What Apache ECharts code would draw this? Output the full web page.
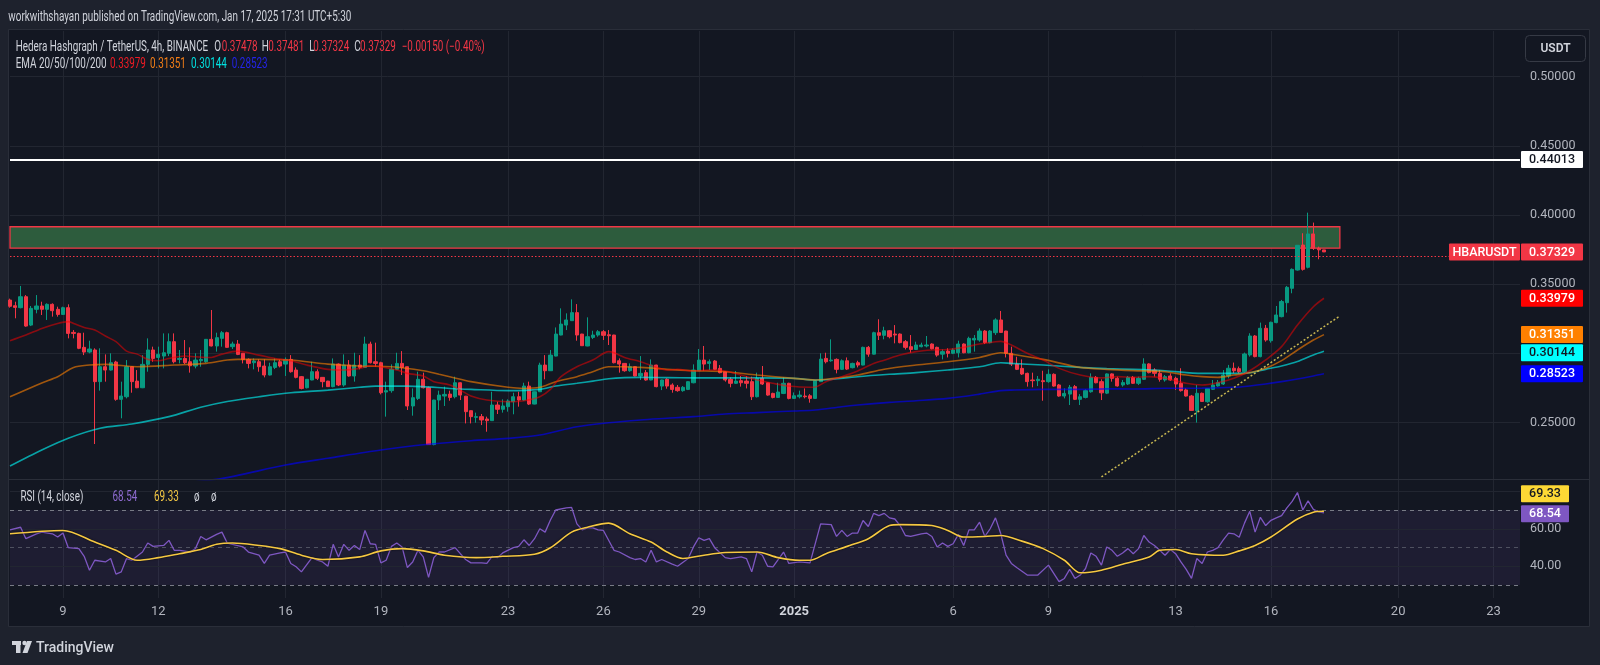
<!DOCTYPE html>
<html><head><meta charset="utf-8">
<script src="https://cdn.jsdelivr.net/npm/echarts@6/dist/echarts.min.js"></script>
<style>html,body{margin:0;padding:0;background:#1e222d;}#c{width:1600px;height:665px;}</style>
</head><body><div id="c"></div>
<script>
// ---------- DATA ----------
const tickIdx = [10,28,52,70,94,112,130,148,178,196,220,238,262,280];
const tickLabels = ['9','12','16','19','23','26','29','2025','6','9','13','16','20','23'];
const priceTicks = [0.25,0.30,0.35,0.40,0.45,0.50];
const rsiTicks = [40,60];
const rsiGrid = [40,60,80];
const rsiLevels = [70,50,30];
const keyLevel = 0.44013;
const zoneLow = 0.3760, zoneHigh = 0.3915, zoneEnd = 251;
const lastPrice = 0.37329;
const trendLine = [[206,0.2106],[251,0.3270]];
// [open, high, low, close] per 4h candle, from Dec 7 08:00
const candles = [
[.3385,.3395,.3330,.3340],[.3344,.3373,.3253,.3332],[.3330,.3487,.3325,.3409],[.3409,.3421,.3192,.3197],[.3204,.3342,.3197,.3325],
[.3318,.3421,.3289,.3342],[.3342,.3373,.3277,.3318],[.3318,.3361,.3241,.3354],[.3354,.3361,.3265,.3308],[.3318,.3337,.3265,.3281],
[.3281,.3337,.3277,.3330],[.3330,.3354,.3108,.3144],[.3151,.3168,.3108,.3144],[.3144,.3149,.3030,.3036],[.3043,.3149,.2987,.3009],
[.3009,.3091,.3000,.3031],[.3024,.3036,.2344,.2795],[.2795,.3036,.2730,.2903],[.2903,.2992,.2795,.2879],[.2879,.3000,.2875,.2932],
[.2937,.2946,.2657,.2667],[.2667,.2795,.2530,.2691],[.2686,.2951,.2674,.2903],[.2903,.2905,.2715,.2795],[.2799,.2879,.2748,.2751],
[.2751,.2987,.2748,.2920],[.2920,.3108,.2867,.3024],[.3024,.3048,.2939,.2963],[.2970,.3048,.2891,.2992],[.2980,.3144,.2891,.3004],
[.3000,.3144,.2980,.3084],[.3084,.3144,.2927,.2939],[.2956,.3024,.2927,.2963],[.2963,.3096,.2922,.2932],[.2939,.3043,.2860,.2910],
[.2908,.3000,.2891,.2951],[.2946,.3024,.2903,.2956],[.2939,.3103,.2932,.3101],[.3101,.3313,.3050,.3053],[.3053,.3149,.3012,.3113],
[.3108,.3161,.3048,.3149],[.3149,.3156,.3040,.3043],[.3048,.3084,.3031,.3067],[.3067,.3096,.2987,.2992],[.3000,.3002,.2927,.2956],
[.2956,.2963,.2891,.2927],[.2932,.2963,.2884,.2944],[.2939,.2956,.2867,.2903],[.2908,.2956,.2826,.2843],[.2843,.2932,.2840,.2903],
[.2898,.2963,.2886,.2932],[.2939,.2956,.2898,.2908],[.2922,.2970,.2836,.2956],[.2956,.2987,.2860,.2867],[.2879,.2898,.2819,.2826],
[.2831,.2836,.2739,.2746],[.2751,.2814,.2746,.2812],[.2807,.2939,.2805,.2867],[.2867,.2884,.2807,.2819],[.2826,.2828,.2754,.2795],
[.2799,.2801,.2757,.2759],[.2759,.2963,.2754,.2922],[.2922,.2927,.2763,.2771],[.2771,.2992,.2759,.2915],[.2915,.2951,.2831,.2836],
[.2836,.3004,.2795,.2915],[.2915,.2987,.2884,.2898],[.2898,.3120,.2896,.3067],[.3067,.3084,.2927,.2932],[.2939,.3077,.2903,.2927],
[.2932,.2939,.2703,.2715],[.2720,.2795,.2542,.2730],[.2730,.2920,.2715,.2884],[.2884,.3004,.2879,.2927],[.2927,.3016,.2843,.2898],
[.2903,.2905,.2590,.2619],[.2619,.2746,.2549,.2679],[.2674,.2867,.2662,.2812],[.2812,.2860,.2746,.2751],[.2751,.2759,.2337,.2340],
[.2340,.2664,.2335,.2662],[.2662,.2730,.2590,.2698],[.2691,.2759,.2619,.2703],[.2705,.2730,.2657,.2681],[.2686,.2831,.2674,.2787],
[.2787,.2790,.2662,.2698],[.2690,.2692,.2493,.2578],[.2585,.2587,.2493,.2542],[.2537,.2571,.2498,.2542],[.2542,.2561,.2481,.2518],
[.2525,.2542,.2433,.2513],[.2513,.2722,.2511,.2626],[.2626,.2650,.2561,.2595],[.2595,.2667,.2571,.2619],[.2614,.2667,.2578,.2655],
[.2650,.2715,.2559,.2686],[.2686,.2722,.2614,.2662],[.2662,.2787,.2657,.2763],[.2763,.2795,.2626,.2633],[.2633,.2724,.2631,.2722],
[.2722,.2932,.2720,.2915],[.2915,.2987,.2812,.2874],[.2874,.3024,.2872,.2987],[.2980,.3187,.2978,.3139],[.3132,.3325,.3130,.3211],
[.3204,.3289,.3168,.3241],[.3236,.3390,.3234,.3294],[.3294,.3356,.3091,.3132],[.3139,.3141,.3053,.3055],[.3053,.3260,.3051,.3120],
[.3115,.3163,.3103,.3132],[.3132,.3168,.3120,.3156],[.3156,.3168,.3096,.3130],[.3134,.3168,.3060,.3127],[.3132,.3134,.2927,.2932],
[.2946,.2963,.2860,.2922],[.2927,.2929,.2867,.2874],[.2874,.2927,.2867,.2903],[.2903,.2905,.2834,.2836],[.2836,.2980,.2807,.2855],
[.2860,.2879,.2802,.2807],[.2807,.2956,.2805,.2915],[.2915,.2917,.2754,.2759],[.2763,.2809,.2734,.2807],[.2812,.2819,.2744,.2763],
[.2771,.2783,.2715,.2739],[.2754,.2771,.2722,.2730],[.2730,.2763,.2722,.2754],[.2739,.2797,.2734,.2795],[.2787,.2920,.2783,.2879],
[.2874,.3031,.2872,.2951],[.2951,.3053,.2874,.2922],[.2927,.2956,.2879,.2939],[.2944,.2951,.2879,.2884],[.2891,.2915,.2855,.2860],
[.2867,.2869,.2795,.2807],[.2812,.2826,.2754,.2783],[.2783,.2872,.2778,.2799],[.2802,.2836,.2759,.2787],[.2799,.2836,.2746,.2783],
[.2795,.2831,.2662,.2686],[.2686,.2860,.2681,.2819],[.2819,.2908,.2771,.2778],[.2787,.2789,.2693,.2698],[.2710,.2715,.2674,.2681],
[.2681,.2787,.2679,.2720],[.2710,.2826,.2705,.2783],[.2783,.2787,.2667,.2674],[.2674,.2717,.2672,.2693],[.2686,.2730,.2674,.2698],
[.2691,.2746,.2674,.2686],[.2693,.2705,.2643,.2674],[.2674,.2807,.2672,.2802],[.2795,.3000,.2793,.2958],[.2963,.3004,.2927,.2939],
[.2946,.3101,.2939,.2951],[.2956,.2963,.2855,.2884],[.2884,.2956,.2879,.2946],[.2946,.2970,.2879,.2886],[.2896,.2932,.2891,.2927],
[.2932,.2946,.2898,.2915],[.2915,.3048,.2913,.3043],[.3043,.3053,.2975,.2994],[.2994,.3156,.2992,.3149],[.3149,.3246,.3096,.3130],
[.3130,.3192,.3101,.3163],[.3163,.3168,.3108,.3120],[.3139,.3204,.3072,.3132],[.3139,.3144,.3072,.3077],[.3084,.3096,.3028,.3043],
[.3048,.3132,.3004,.3028],[.3028,.3084,.3024,.3060],[.3048,.3077,.3043,.3060],[.3053,.3125,.3043,.3060],[.3067,.3072,.3028,.3033],
[.3043,.3048,.2975,.2987],[.2994,.3028,.2956,.3012],[.3016,.3036,.2970,.3000],[.3000,.3036,.2994,.3024],[.3004,.3091,.2970,.3067],
[.3067,.3072,.3000,.3004],[.3004,.3120,.3000,.3108],[.3096,.3132,.3012,.3108],[.3096,.3180,.3084,.3161],[.3161,.3168,.3067,.3077],
[.3077,.3168,.3072,.3161],[.3149,.3253,.3132,.3241],[.3241,.3306,.3149,.3151],[.3161,.3163,.2970,.3000],[.3000,.3048,.2908,.2922],
[.2922,.2975,.2879,.2884],[.2891,.2956,.2843,.2850],[.2855,.2860,.2759,.2795],[.2807,.2860,.2754,.2802],[.2802,.2836,.2763,.2812],
[.2802,.2874,.2657,.2795],[.2795,.2884,.2787,.2848],[.2848,.2855,.2759,.2763],[.2771,.2778,.2686,.2691],[.2691,.2746,.2674,.2710],
[.2705,.2771,.2626,.2754],[.2759,.2771,.2662,.2667],[.2667,.2705,.2626,.2686],[.2681,.2739,.2674,.2730],[.2722,.2855,.2715,.2826],
[.2826,.2836,.2783,.2787],[.2795,.2812,.2662,.2714],[.2712,.2855,.2705,.2851],[.2851,.2855,.2795,.2819],[.2819,.2831,.2759,.2764],
[.2771,.2807,.2759,.2788],[.2778,.2836,.2771,.2826],[.2826,.2836,.2778,.2783],[.2783,.2831,.2771,.2819],[.2812,.2964,.2807,.2923],
[.2923,.2928,.2855,.2860],[.2879,.2892,.2831,.2855],[.2855,.2879,.2795,.2812],[.2807,.2843,.2795,.2831],[.2836,.2855,.2802,.2807],
[.2819,.2831,.2735,.2778],[.2783,.2892,.2723,.2730],[.2735,.2747,.2687,.2691],[.2691,.2699,.2585,.2587],[.2585,.2771,.2499,.2711],
[.2711,.2716,.2650,.2652],[.2650,.2747,.2643,.2745],[.2740,.2807,.2735,.2771],[.2764,.2807,.2759,.2788],[.2778,.2879,.2771,.2843],
[.2836,.2916,.2819,.2892],[.2892,.2933,.2855,.2874],[.2889,.2904,.2855,.2867],[.2867,.3005,.2860,.2995],[.2988,.3145,.2976,.3125],
[.3125,.3132,.2971,.2976],[.2976,.3222,.2971,.3181],[.3181,.3205,.3084,.3096],[.3091,.3229,.3077,.3224],[.3222,.3342,.3217,.3277],
[.3265,.3386,.3260,.3374],[.3366,.3487,.3294,.3477],[.3470,.3614,.3434,.3607],[.3602,.3783,.3598,.3781],[.3783,.3868,.3598,.3607],
[.3622,.4017,.3614,.3863],[.3863,.3945,.3747,.3759],[.3759,.3771,.3680,.3748],[.37478,.37481,.37324,.37329]
];
const ema20 = [[0,.3091],[3,.3132],[6,.3180],[9,.3216],[11,.3229],[12,.3216],[14,.3187],[16,.3168],[18,.3125],[20,.3084],[22,.3016],[24,.2994],[26,.2956],[28,.2946],[30,.2963],[33,.2980],[35,.2975],[38,.2970],[40,.2994],[43,.3016],[47,.2987],[50,.2963],[53,.2946],[56,.2915],[60,.2884],[63,.2879],[66,.2891],[68,.2910],[70,.2903],[73,.2879],[75,.2855],[78,.2836],[80,.2795],[83,.2771],[85,.2734],[87,.2691],[90,.2662],[94,.2650],[97,.2657],[100,.2686],[102,.2739],[104,.2831],[107,.2903],[110,.2951],[113,.3012],[114,.3004],[116,.2970],[119,.2939],[122,.2898],[124,.2879],[126,.2884],[129,.2872],[132,.2879],[135,.2872],[138,.2843],[141,.2807],[144,.2783],[147,.2763],[151,.2754],[152,.2756],[154,.2795],[157,.2831],[160,.2872],[163,.2927],[165,.2950],[168,.2987],[171,.3012],[174,.3024],[177,.3028],[180,.3043],[183,.3067],[186,.3084],[187,.3086],[189,.3060],[192,.3000],[195,.2951],[198,.2891],[202,.2843],[206,.2822],[209,.2831],[212,.2826],[215,.2831],[218,.2819],[222,.2783],[225,.2771],[228,.2788],[231,.2819],[234,.2874],[237,.2952],[240,.3048],[243,.3205],[246,.3337],[248,.33979]];
const ema50 = [[0,.2686],[6,.2786],[9,.2831],[12,.2898],[15,.2915],[18,.2920],[24,.2903],[31,.2915],[37,.2927],[41,.2951],[43,.2956],[47,.2956],[53,.2951],[60,.2922],[66,.2908],[72,.2903],[78,.2874],[81,.2848],[83,.2831],[87,.2795],[94,.2754],[97,.2746],[100,.2754],[103,.2795],[107,.2831],[110,.2867],[113,.2903],[116,.2903],[119,.2898],[122,.2891],[124,.2884],[129,.2874],[135,.2867],[141,.2843],[148,.2819],[152,.2807],[154,.2812],[160,.2843],[165,.2885],[171,.2915],[177,.2939],[183,.2970],[187,.3004],[189,.2994],[195,.2956],[202,.2898],[207,.2884],[212,.2875],[218,.2867],[222,.2843],[225,.2831],[228,.2826],[231,.2843],[234,.2860],[237,.2892],[240,.2947],[243,.3024],[246,.3096],[248,.31351]];
const ema100 = [[0,.2185],[6,.2301],[11,.2386],[17,.2458],[23,.2489],[30,.2542],[36,.2610],[41,.2652],[47,.2686],[53,.2715],[60,.2734],[66,.2754],[69,.2763],[75,.2763],[78,.2759],[83,.2746],[87,.2739],[94,.2730],[100,.2739],[103,.2763],[107,.2783],[110,.2799],[113,.2816],[116,.2824],[119,.2826],[124,.2824],[129,.2822],[135,.2822],[141,.2822],[148,.2819],[152,.2807],[154,.2809],[160,.2831],[166,.2848],[171,.2860],[177,.2879],[183,.2903],[187,.2932],[189,.2927],[195,.2915],[202,.2898],[207,.2889],[212,.2884],[218,.2874],[225,.2855],[231,.2855],[234,.2860],[237,.2884],[240,.2908],[243,.2940],[246,.2988],[248,.30144]];
const ema200 = [[0,.1950],[20,.2020],[39,.2089],[52,.2192],[60,.2241],[70,.2301],[79,.2342],[87,.2368],[94,.2385],[100,.2409],[107,.2469],[113,.2498],[119,.2518],[124,.2530],[129,.2542],[135,.2561],[141,.2571],[148,.2583],[152,.2590],[157,.2614],[160,.2626],[166,.2645],[171,.2657],[177,.2674],[183,.2705],[187,.2730],[189,.2734],[195,.2739],[202,.2739],[207,.2743],[212,.2742],[218,.2747],[225,.2748],[231,.2754],[234,.2764],[237,.2778],[240,.2795],[243,.2814],[246,.2836],[248,.28523]];
const rsi = [[0,59.4],[2,60.8],[3,54.7],[5,57.3],[6,58.2],[8,57.3],[9,55.6],[10,57.7],[11,49.9],[13,49.4],[14,45.3],[15,37.9],[16,43.2],[18,42.3],[19,44.1],[20,35.8],[21,37.0],[22,44.1],[23,43.2],[25,47.6],[26,52.4],[27,50.6],[29,51.1],[30,53.8],[31,48.5],[32,48.5],[34,47.6],[35,49.4],[36,55.9],[37,54.1],[39,57.0],[40,58.2],[41,52.4],[42,51.7],[44,50.3],[45,47.6],[47,45.9],[48,41.5],[49,45.9],[51,47.1],[52,47.6],[53,41.5],[54,39.7],[55,37.0],[57,44.6],[58,43.2],[59,42.3],[60,40.0],[61,51.7],[62,45.0],[63,51.7],[64,48.5],[65,51.1],[66,48.9],[67,59.1],[68,52.0],[69,51.7],[70,41.8],[71,43.2],[72,50.6],[73,52.4],[74,50.3],[75,39.3],[76,42.3],[77,48.5],[78,45.0],[79,34.1],[80,44.6],[81,47.6],[82,47.6],[84,49.9],[85,46.7],[86,43.6],[87,41.8],[89,41.8],[90,41.5],[91,45.3],[92,44.6],[93,47.1],[95,49.9],[96,50.6],[97,54.1],[98,51.1],[99,54.7],[100,60.0],[101,58.2],[102,64.7],[103,70.0],[105,71.1],[106,71.4],[107,62.6],[108,59.4],[109,60.5],[110,60.5],[111,59.4],[112,59.1],[114,48.5],[115,47.6],[117,44.6],[118,43.6],[119,44.1],[120,42.3],[121,48.5],[122,42.3],[123,43.6],[125,41.1],[126,40.0],[128,44.1],[129,50.3],[130,55.2],[131,53.8],[132,54.7],[133,49.9],[135,44.6],[136,44.1],[138,45.0],[139,44.1],[140,37.0],[141,47.6],[142,45.9],[143,40.0],[144,39.7],[146,47.6],[147,41.5],[149,42.3],[151,41.8],[153,62.6],[155,62.2],[156,55.9],[157,59.1],[158,55.9],[159,57.7],[160,57.7],[161,64.4],[162,61.2],[163,68.2],[164,67.0],[165,68.2],[166,65.8],[167,65.2],[168,61.7],[169,56.4],[170,55.9],[172,57.3],[173,57.7],[174,55.9],[175,50.3],[176,52.4],[177,50.6],[178,52.0],[179,57.0],[180,51.1],[181,59.4],[182,59.4],[183,63.5],[184,55.9],[185,60.0],[186,65.8],[187,57.3],[188,45.9],[189,41.5],[190,39.3],[192,35.3],[193,35.3],[194,35.3],[196,40.6],[197,36.2],[198,31.8],[199,33.5],[200,38.3],[201,33.5],[202,35.3],[203,38.8],[204,47.1],[205,45.3],[206,40.6],[207,50.3],[208,48.5],[209,45.3],[210,47.1],[211,49.4],[212,46.7],[213,49.4],[214,56.4],[215,52.9],[216,51.1],[217,48.5],[218,45.9],[219,48.9],[220,46.7],[221,42.3],[222,38.3],[223,33.5],[224,44.1],[225,41.5],[226,47.6],[227,48.5],[228,49.9],[229,54.1],[230,57.7],[231,57.3],[232,55.5],[233,63.0],[234,69.3],[235,58.2],[236,66.1],[237,61.7],[238,64.5],[239,65.8],[240,67.0],[241,71.1],[242,74.6],[243,79.3],[244,70.0],[245,74.9],[246,70.3],[247,69.0],[248,68.54]];
const rsiMA = [[0,57.3],[10,59.1],[16,52.9],[20,48.5],[24,43.2],[28,44.6],[32,46.7],[36,48.9],[39,51.7],[42,52.4],[47,51.1],[51,49.4],[55,45.9],[59,43.6],[66,45.0],[70,48.2],[74,49.4],[78,48.2],[82,45.9],[88,44.6],[93,45.3],[99,46.4],[102,49.9],[106,58.2],[109,60.8],[113,63.0],[117,57.3],[121,52.9],[124,47.6],[127,44.1],[131,45.9],[135,47.3],[141,47.6],[145,44.6],[149,43.2],[151,43.2],[154,46.7],[158,50.6],[162,54.7],[166,61.7],[168,62.2],[174,61.7],[177,59.1],[180,55.6],[184,55.9],[187,56.4],[191,53.4],[195,49.4],[199,43.2],[202,36.5],[206,37.9],[210,41.1],[215,45.0],[217,48.5],[220,48.9],[223,46.7],[229,45.9],[232,48.2],[235,51.1],[238,55.6],[243,65.2],[246,68.8],[248,69.33]];

// ---------- CHART ----------
const N = 286;
const startT = Date.UTC(2024, 11, 7, 8);
const cats = [];
for (let i = 0; i < N; i++) cats.push(new Date(startT + i * 4 * 3600e3).toISOString().slice(0, 13));
const tickSet = new Set(tickIdx);
const UP = '#089981', DN = '#f23645';
const GRIDC = '#222631';
const FONT = 'Roboto';
const chart = echarts.init(document.getElementById('c'), null, {renderer: 'canvas', width: 1600, height: 665});

const xBase = (gi, showLabel) => ({
  type: 'category', data: cats, boundaryGap: false, gridIndex: gi,
  axisLine: {show: false}, axisTick: {show: false},
  axisLabel: showLabel ? {
    show: true, interval: (i) => tickSet.has(i), margin: 7,
    formatter: (v, i) => { const k = tickIdx.indexOf(i); if (k < 0) return ''; const t = tickLabels[k]; return t === '2025' ? '{b|2025}' : t; },
    color: '#b2b5be', fontSize: 13, fontFamily: FONT,
    rich: {b: {fontWeight: 'bold', color: '#d1d4dc', fontSize: 13, fontFamily: FONT}}
  } : {show: false},
  splitLine: {show: true, interval: (i) => tickSet.has(i), lineStyle: {color: GRIDC, width: 1}}
});

const option = {
  backgroundColor: '#1e222d', animation: false,
  grid: [{left: 10, right: 80, top: 31, height: 448.5}, {left: 10, right: 80, top: 480, height: 118}],
  xAxis: [xBase(0, false), xBase(1, true)],
  yAxis: [
    {type: 'value', gridIndex: 0, position: 'right', min: 0.20875, max: 0.53304, scale: true,
     splitLine: {show: false}, axisLine: {show: false}, axisTick: {show: false},
     axisLabel: {customValues: priceTicks, formatter: v => v.toFixed(5), color: '#b2b5be', fontSize: 12.5, fontFamily: FONT, margin: 10}},
    {type: 'value', gridIndex: 1, position: 'right', min: 23.07, max: 86.0,
     splitLine: {show: false}, axisLine: {show: false}, axisTick: {show: false},
     axisLabel: {customValues: rsiTicks, formatter: v => v.toFixed(2), color: '#b2b5be', fontSize: 12.5, fontFamily: FONT, margin: 10}}
  ],
  series: [
    {type: 'line', name: 'EMA200', xAxisIndex: 0, yAxisIndex: 0, data: ema200, symbol: 'none', smooth: 0.3, z: 3,
     lineStyle: {color: 'rgba(0,0,255,0.62)', width: 1.6},
     markLine: {z: 1, silent: true, symbol: ['none', 'none'], label: {show: false},
       data: priceTicks.map(v => ({yAxis: v, lineStyle: {color: GRIDC, width: 1, type: 'solid'}}))}},
    {type: 'candlestick', name: 'HBAR', xAxisIndex: 0, yAxisIndex: 0, barWidth: '70%',
     data: candles.map(r => [r[0], r[3], r[2], r[1]]),
     itemStyle: {color: UP, color0: DN, borderColor: UP, borderColor0: DN, borderWidth: 1},
     markArea: {z: 1, silent: true, data: [[{xAxis: cats[0], yAxis: zoneLow}, {xAxis: cats[zoneEnd], yAxis: zoneHigh}]],
       itemStyle: {color: '#2d5c3d', borderColor: '#f23645', borderWidth: 1.3}},
     markLine: {silent: true, symbol: ['none', 'none'], label: {show: false},
       data: [{yAxis: keyLevel, lineStyle: {color: '#ffffff', width: 2, type: 'solid'}},
              {yAxis: lastPrice, lineStyle: {color: '#f23645', width: 1.2, type: [1.5, 2]}}]}},
    {type: 'line', name: 'EMA100', xAxisIndex: 0, yAxisIndex: 0, data: ema100, symbol: 'none', smooth: 0.3, z: 3,
     lineStyle: {color: 'rgba(0,255,255,0.6)', width: 1.6}},
    {type: 'line', name: 'EMA50', xAxisIndex: 0, yAxisIndex: 0, data: ema50, symbol: 'none', smooth: 0.3, z: 3,
     lineStyle: {color: 'rgba(255,128,0,0.6)', width: 1.6}},
    {type: 'line', name: 'EMA20', xAxisIndex: 0, yAxisIndex: 0, data: ema20, symbol: 'none', smooth: 0.3, z: 3,
     lineStyle: {color: 'rgba(255,0,0,0.5)', width: 1.6}},
    {type: 'line', name: 'trend', xAxisIndex: 0, yAxisIndex: 0, data: trendLine, symbol: 'none', z: 4,
     lineStyle: {color: '#c9b852', width: 1.5, type: [2, 2]}},
    {type: 'line', name: 'RSI', xAxisIndex: 1, yAxisIndex: 1, data: rsi, symbol: 'none', z: 3,
     lineStyle: {color: '#7e57c2', width: 1.3},
     markArea: {z: 1, silent: true, data: [[{yAxis: 30}, {yAxis: 70}]], itemStyle: {color: 'rgba(126,87,194,0.1)'}},
     markLine: {z: 2, silent: true, symbol: ['none', 'none'], label: {show: false},
       data: rsiGrid.map(v => ({yAxis: v, lineStyle: {color: GRIDC, width: 1, type: 'solid'}}))
         .concat(rsiLevels.map(v => ({yAxis: v, lineStyle: {color: v === 50 ? 'rgba(120,123,134,0.55)' : '#787b86', width: 1, type: [4, 4]}})))}},
    {type: 'line', name: 'RSI MA', xAxisIndex: 1, yAxisIndex: 1, data: rsiMA, symbol: 'none', smooth: 0.3, z: 4,
     lineStyle: {color: '#f5c842', width: 1.6, shadowColor: 'rgba(0,0,0,0.8)', shadowBlur: 2}}
  ]
};
chart.setOption(option);

// ---------- TEXT / TAGS ----------
const mctx = document.createElement('canvas').getContext('2d');
function measure(t, size, weight) { mctx.font = `${weight || 'normal'} ${size}px ${FONT}`; return mctx.measureText(t).width; }
const G = [];
function txt(x, y, t, color, size, weight, opts) {
  opts = opts || {};
  let sx = opts.scale || 1;
  if (opts.width) sx = opts.width / measure(t, size, weight);
  G.push({type: 'text', x: x, y: y, scaleX: sx, z: opts.z || 60, silent: true,
    style: {text: t, fill: color, font: `${weight || 'normal'} ${size}px ${FONT}`,
      textAlign: opts.align || 'left', align: opts.align || 'left', textVerticalAlign: 'middle', verticalAlign: 'middle'}});
  return sx;
}
// panel
G.push({type: 'rect', z: -10, silent: true, shape: {x: 8.5, y: 29.5, width: 1581, height: 597},
  style: {fill: '#131722', stroke: '#2a2e39', lineWidth: 1}});
G.push({type: 'line', z: 20, silent: true, shape: {x1: 8.5, y1: 479.5, x2: 1589.5, y2: 479.5}, style: {stroke: '#2a2e39', lineWidth: 1}});

const LG = '#d1d4dc';
txt(8.3, 17, 'workwithshayan published on TradingView.com, Jan 17, 2025 17:31 UTC+5:30', LG, 14, 'normal', {width: 343});
const sL = txt(15.7, 47, 'Hedera Hashgraph / TetherUS, 4h, BINANCE', LG, 14, 'normal', {width: 192.5});
const legend1 = [['O', 214.3, LG], ['0.37478', 221.7, DN], ['H', 261.7, LG], ['0.37481', 268.3, DN], ['L', 309.3, LG], ['0.37324', 313.3, DN],
  ['C', 354.3, LG], ['0.37329', 360, DN], ['\u22120.00150 (\u22120.40%)', 401.7, DN]];
legend1.forEach(a => txt(a[1], 47, a[0], a[2], 14, 'normal', {scale: sL}));
txt(15.7, 64, 'EMA 20/50/100/200', LG, 14, 'normal', {scale: sL});
[['0.33979', 110, '#f01c24'], ['0.31351', 150, '#f57f17'], ['0.30144', 191, '#00e0e0'], ['0.28523', 231.7, '#2424e8']]
  .forEach(a => txt(a[1], 64, a[0], a[2], 14, 'normal', {scale: sL}));
txt(20.4, 497, 'RSI (14, close)', LG, 14, 'normal', {scale: sL});
[['68.54', 112.5, '#8e6bd0'], ['69.33', 154, '#f2c744'], ['\u00f8', 194, LG], ['\u00f8', 211, LG]]
  .forEach(a => txt(a[1], 497, a[0], a[2], 14, 'normal', {scale: sL}));

// TradingView footer
G.push({type: 'rect', z: 60, silent: true, shape: {x: 12, y: 641, width: 9, height: 4}, style: {fill: LG}});
G.push({type: 'rect', z: 60, silent: true, shape: {x: 16, y: 641, width: 4.5, height: 12}, style: {fill: LG}});
G.push({type: 'circle', z: 60, silent: true, shape: {cx: 24.5, cy: 643, r: 2.2}, style: {fill: LG}});
G.push({type: 'polygon', z: 60, silent: true, shape: {points: [[27, 641], [32, 641], [27.5, 653], [22.5, 653]]}, style: {fill: LG}});
txt(36, 648, 'TradingView', LG, 14, '500', {width: 78});

// USDT box
G.push({type: 'rect', z: 60, silent: true, shape: {x: 1525.5, y: 35.5, width: 60, height: 26, r: 4}, style: {fill: '#131722', stroke: '#363a45', lineWidth: 1}});
txt(1555.5, 48.5, 'USDT', LG, 12, '600', {align: 'center'});

// price tags
function yP(v) { return chart.convertToPixel({yAxisIndex: 0}, v); }
function yR(v) { return chart.convertToPixel({yAxisIndex: 1}, v); }
function tag(x, w, cy, label, bg, fg) {
  G.push({type: 'rect', z: 80, silent: true, shape: {x: x, y: cy - 8.5, width: w, height: 17, r: 1}, style: {fill: bg}});
  G.push({type: 'text', z: 81, silent: true, x: x + w / 2, y: cy + 0.5,
    style: {text: label, fill: fg, font: `500 12.5px ${FONT}`, textAlign: 'center', align: 'center', textVerticalAlign: 'middle', verticalAlign: 'middle'}});
}
const last = a => a[a.length - 1][1];
tag(1521, 62, yP(keyLevel), keyLevel.toFixed(5), '#ffffff', '#131722');
tag(1449, 71, yP(lastPrice), 'HBARUSDT', '#f23645', '#ffffff');
tag(1521, 62, yP(lastPrice), lastPrice.toFixed(5), '#f23645', '#ffffff');
tag(1521, 62, yP(last(ema20)), last(ema20).toFixed(5), '#ff0000', '#ffffff');
tag(1521, 62, yP(last(ema50)), last(ema50).toFixed(5), '#ff8000', '#ffffff');
tag(1521, 62, yP(last(ema100)) + 1.5, last(ema100).toFixed(5), '#00ffff', '#131722');
tag(1521, 62, yP(last(ema200)), last(ema200).toFixed(5), '#0000ff', '#ffffff');
tag(1521, 48, yR(last(rsiMA)) - 17.5, last(rsiMA).toFixed(2), '#fdd835', '#131722');
tag(1521, 48, yR(last(rsi)) + 1, last(rsi).toFixed(2), '#7e57c2', '#ffffff');

chart.setOption({graphic: {elements: G}});
</script></body></html>
